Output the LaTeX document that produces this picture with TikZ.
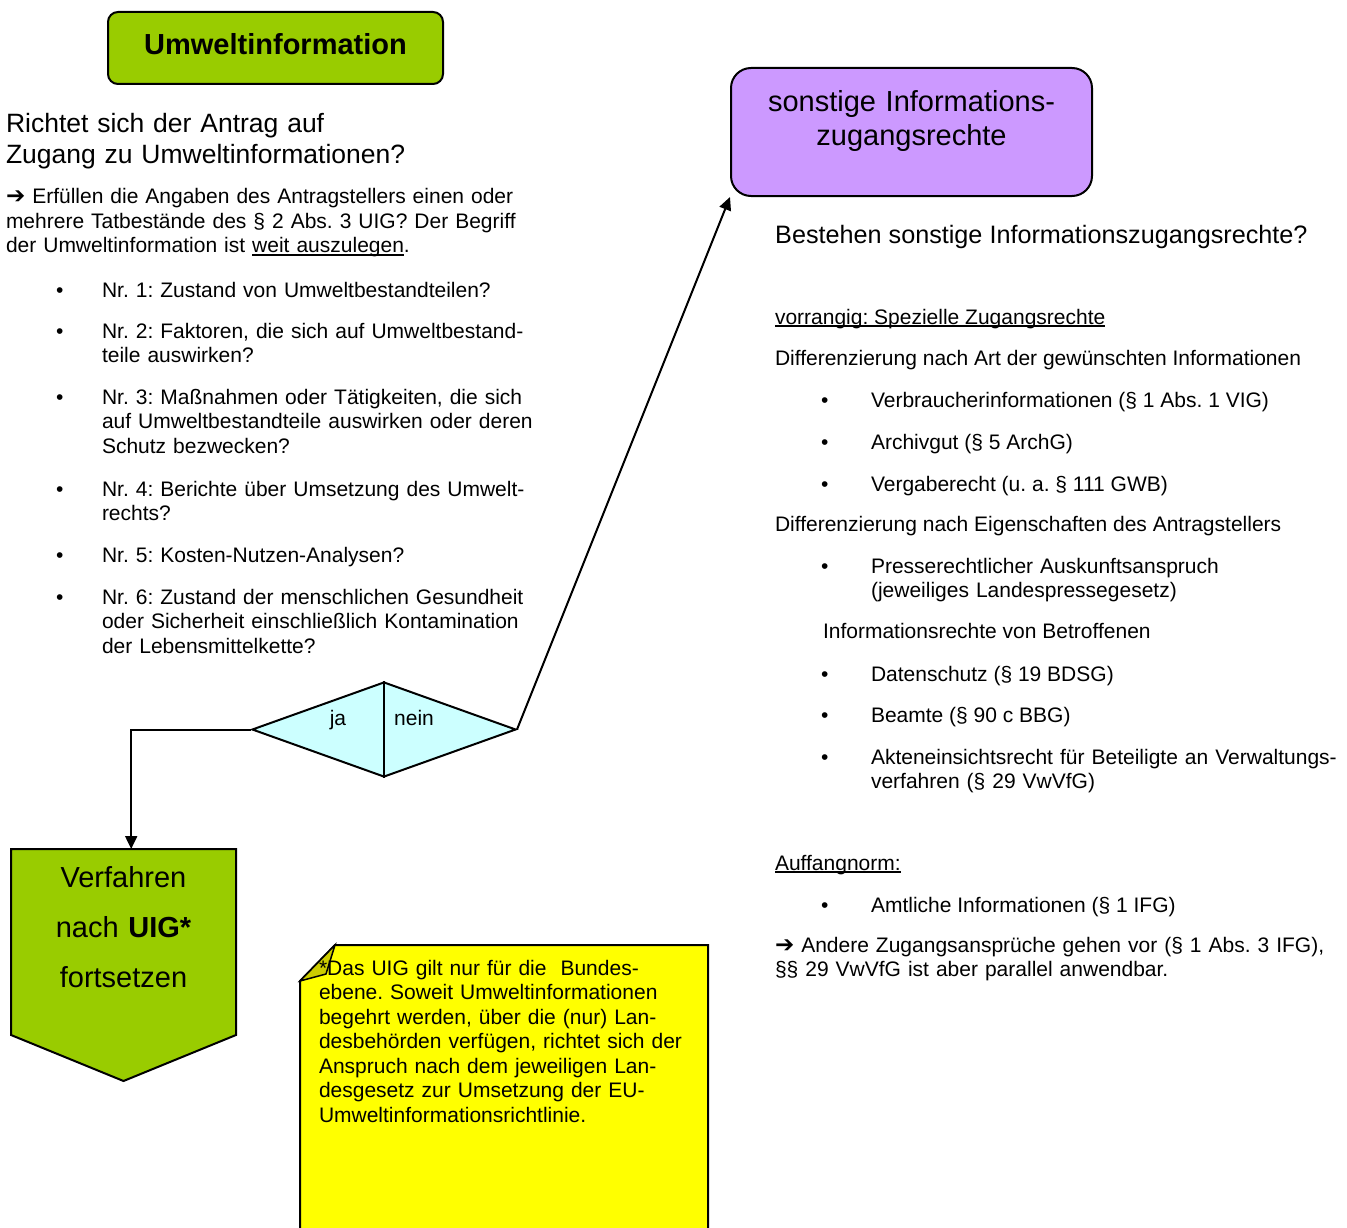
\documentclass[tikz,border=0pt]{standalone}
\usepackage{fontspec}
\setmainfont{Liberation Sans}
\newfontfamily\symfont{DejaVu Sans}
\usetikzlibrary{shapes.geometric,arrows.meta}
\frenchspacing
% underline at a fixed offset, drawn through descenders
\newcommand\ulx[1]{\setbox0\hbox{#1}\rlap{\rule[-0.13em]{\wd0}{0.07em}}\box0}
\newcommand\rarrow{{\symfont\fontsize{23}{24}\selectfont\char"2794}}
\definecolor{uigreen}{HTML}{99CC00}
\definecolor{lilac}{HTML}{CC99FF}
\definecolor{paleblue}{HTML}{CCFFFF}
\definecolor{notey}{HTML}{FFFF00}
\definecolor{foldy}{HTML}{CCCC00}
\tikzset{
  body/.style={anchor=base west, inner sep=0, outer sep=0, font=\fontsize{21}{24.5}\selectfont},
  para/.style={body, text width=#1, align=left},
  bigpara/.style={anchor=base west, inner sep=0, outer sep=0, text width=#1, align=left, font=\fontsize{26.5}{31}\selectfont},
  bul/.style={body},
  outline/.style={draw=black, line width=2pt},
  conn/.style={draw=black, line width=2pt, -{Triangle[length=13pt,width=12pt]}},
}
\begin{document}
\begin{tikzpicture}[x=1pt,y=-1pt]
\useasboundingbox (0,0) rectangle (1347,1228);

% ---------- left column ----------
\node (umw) [outline, fill=uigreen, rounded corners=10pt, minimum width=335pt, minimum height=72pt,
  inner sep=0] at (275.5,48) {};
\node (umwtxt) [anchor=base, inner sep=0, font=\bfseries\fontsize{29}{34}\selectfont] at (275.5,55) {Umweltinformation};

\node (q1) [bigpara=500pt] at (6,133) {Richtet sich der Antrag auf\\Zugang zu Umweltinformationen?};

\node (q1a) [para=560pt] at (6,204) {\rarrow{} Erfüllen die Angaben des Antragstellers einen oder\\
  mehrere Tatbestände des § 2 Abs. 3 UIG? Der Begriff\\
  der Umweltinformation ist \ulx{weit auszulegen}.};

\node (lb1) [bul] at (56,297) {\textbullet};
\node (lt1) [para=460pt] at (102,297) {Nr. 1: Zustand von Umweltbestandteilen?};
\node (lb2) [bul] at (56,338) {\textbullet};
\node (lt2) [para=460pt] at (102,338) {Nr. 2: Faktoren, die sich auf Umweltbestand-\\teile auswirken?};
\node (lb3) [bul] at (56,404) {\textbullet};
\node (lt3) [para=460pt] at (102,404) {Nr. 3: Maßnahmen oder Tätigkeiten, die sich\\auf Umweltbestandteile auswirken oder deren\\Schutz bezwecken?};
\node (lb4) [bul] at (56,496) {\textbullet};
\node (lt4) [para=460pt] at (102,496) {Nr. 4: Berichte über Umsetzung des Umwelt-\\rechts?};
\node (lb5) [bul] at (56,562) {\textbullet};
\node (lt5) [para=460pt] at (102,562) {Nr. 5: Kosten-Nutzen-Analysen?};
\node (lb6) [bul] at (56,604) {\textbullet};
\node (lt6) [para=460pt] at (102,604) {Nr. 6: Zustand der menschlichen Gesundheit\\oder Sicherheit einschließlich Kontamination\\der Lebensmittelkette?};

% ---------- decision ----------
\node (dia) [diamond, outline, fill=paleblue, aspect=2.78, minimum width=264pt, minimum height=95pt,
  inner sep=0] at (384,729.5) {};
\draw[outline] (dia.north) -- (dia.south);
\node (ja) [anchor=base, inner sep=0, font=\fontsize{21}{24.5}\selectfont] at (338,725) {ja};
\node (nein) [anchor=base, inner sep=0, font=\fontsize{21}{24.5}\selectfont] at (414,725) {nein};

% ---------- continue with UIG ----------
\node (verf) [minimum width=225pt, minimum height=232pt, inner sep=0, anchor=north west] at (11,849) {};
\path[outline, fill=uigreen] (11,849) -- (236,849) -- (236,1035) -- (123.5,1081) -- (11,1035) -- cycle;
\node (verftxt) [anchor=base, inner sep=0, text width=225pt, align=center,
  font=\fontsize{29}{50}\selectfont] at (123.5,887) {Verfahren\\nach \textbf{UIG*}\\fortsetzen};

\draw[conn] (dia.west) -| ([xshift=7.5pt]verf.north);

% ---------- footnote sheet ----------
\node (note) [minimum width=408pt, minimum height=295pt, inner sep=0, anchor=north west] at (300,945) {};
\path[outline, fill=notey] (300,981) -- (335,945) -- (708,945) -- (708,1245) -- (300,1245) -- cycle;
\path[draw=black, line width=1.5pt, fill=foldy] (300,981) -- (326,974) -- (335,945) -- cycle;
\node (notetxt) [para=385pt] at (319,975) {*Das UIG gilt nur für die \ Bundes-\\
  ebene. Soweit Umweltinformationen\\
  begehrt werden, über die (nur) Lan-\\
  desbehörden verfügen, richtet sich der\\
  Anspruch nach dem jeweiligen Lan-\\
  desgesetz zur Umsetzung der EU-\\
  Umweltinformationsrichtlinie.};

% ---------- right column ----------
\node (sonst) [outline, fill=lilac, rounded corners=20pt, minimum width=361pt, minimum height=128pt,
  inner sep=0] at (911.5,132) {};
\node (sonsttxt) [anchor=base, inner sep=0, text width=360pt, align=center,
  font=\fontsize{29}{34}\selectfont] at (911.5,112) {sonstige Informations-\\zugangsrechte};

\draw[conn] (dia.east) -- (sonst.south west);

\node (q2) [anchor=base west, inner sep=0, font=\fontsize{25.2}{30}\selectfont] at (775,243)
  {Bestehen sonstige Informationszugangsrechte?};

\node (vor) [body] at (775,324) {\ulx{vorrangig: Spezielle Zugangsrechte}};
\node (diffa) [body] at (775,365) {Differenzierung nach Art der gewünschten Informationen};
\node (rb1) [bul] at (821,407) {\textbullet};
\node (rt1) [body] at (871,407) {Verbraucherinformationen (§ 1 Abs. 1 VIG)};
\node (rb2) [bul] at (821,449) {\textbullet};
\node (rt2) [body] at (871,449) {Archivgut (§ 5 ArchG)};
\node (rb3) [bul] at (821,491) {\textbullet};
\node (rt3) [body] at (871,491) {Vergaberecht (u. a. § 111 GWB)};
\node (diffe) [body] at (775,531) {Differenzierung nach Eigenschaften des Antragstellers};
\node (rb4) [bul] at (821,573) {\textbullet};
\node (rt4) [para=470pt] at (871,573) {Presserechtlicher Auskunftsanspruch\\(jeweiliges Landespressegesetz)};
\node (betr) [body] at (823,638) {Informationsrechte von Betroffenen};
\node (rb5) [bul] at (821,681) {\textbullet};
\node (rt5) [body] at (871,681) {Datenschutz (§ 19 BDSG)};
\node (rb6) [bul] at (821,722) {\textbullet};
\node (rt6) [body] at (871,722) {Beamte (§ 90 c BBG)};
\node (rb7) [bul] at (821,764) {\textbullet};
\node (rt7) [para=475pt] at (871,764) {Akteneinsichtsrecht für Beteiligte an Verwaltungs-\\verfahren (§ 29 VwVfG)};
\node (auff) [body] at (775,870) {\ulx{Auffangnorm:}};
\node (rb8) [bul] at (821,912) {\textbullet};
\node (rt8) [body] at (871,912) {Amtliche Informationen (§ 1 IFG)};
\node (andere) [para=570pt] at (775,952) {\rarrow{} Andere Zugangsansprüche gehen vor (§ 1 Abs. 3 IFG),\\
  §§ 29 VwVfG ist aber parallel anwendbar.};
\end{tikzpicture}
\end{document}
